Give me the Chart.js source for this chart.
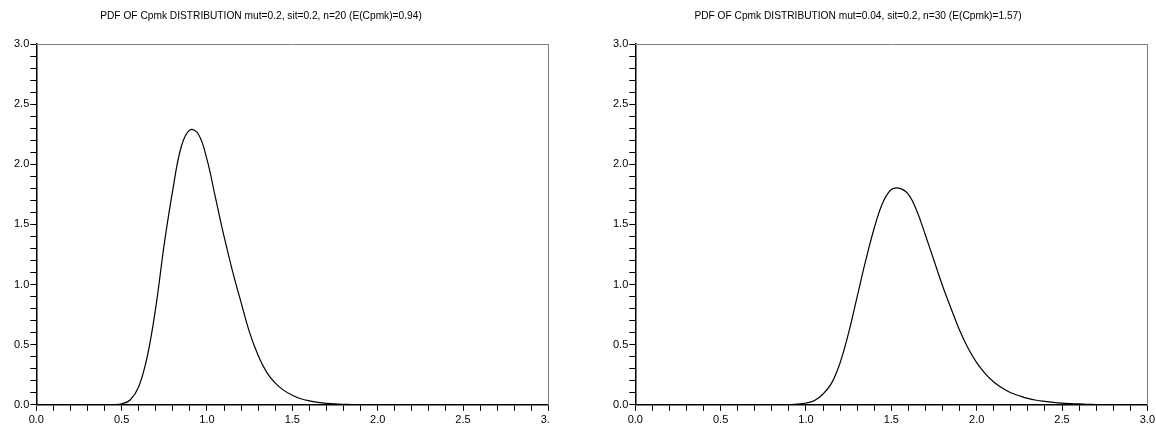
<!DOCTYPE html>
<html>
<head>
<meta charset="utf-8">
<script src="https://cdn.jsdelivr.net/npm/chart.js@4/dist/chart.umd.min.js"></script>
<style>
  html, body { margin: 0; padding: 0; background: #fff; }
  body { width: 1156px; height: 427px; position: relative; overflow: hidden; }
  .panel { position: absolute; top: 0; height: 427px; overflow: hidden; }
  .ttl { position: absolute; top: 10px; font: 10.2px "Liberation Sans", Arial, sans-serif; color: #000;
         white-space: nowrap; transform: translateX(-50%); }
</style>
</head>
<body>
<div class="panel" style="left:0;width:550px"><canvas id="c1" width="559" height="430"></canvas></div>
<div class="panel" style="left:599px;width:557px"><canvas id="c2" width="559" height="430"></canvas></div>
<div class="ttl" style="left:261px">PDF OF Cpmk DISTRIBUTION mut=0.2, sit=0.2, n=20 (E(Cpmk)=0.94)</div>
<div class="ttl" style="left:858px">PDF OF Cpmk DISTRIBUTION mut=0.04, sit=0.2, n=30 (E(Cpmk)=1.57)</div>
<script>
// Cpmk values (x axis)
var cpmkValues = [0.00, 0.05, 0.10, 0.15, 0.20, 0.25, 0.30, 0.35, 0.40, 0.45,
    0.50, 0.55, 0.60, 0.65, 0.70, 0.75, 0.80, 0.85, 0.90, 0.95,
    1.00, 1.05, 1.10, 1.15, 1.20, 1.25, 1.30, 1.35, 1.40, 1.45,
    1.50, 1.55, 1.60, 1.65, 1.70, 1.75, 1.80, 1.85, 1.90, 1.95,
    2.00, 2.05, 2.10, 2.15, 2.20, 2.25, 2.30, 2.35, 2.40, 2.45,
    2.50, 2.55, 2.60, 2.65, 2.70, 2.75, 2.80, 2.85, 2.90, 2.95, 3.00];

// pdf, mut=0.2 sit=0.2 n=20
var pdfLeft = [0, 0, 0, 0, 0, 0, 0, 0, 0, 0,
    0.008, 0.04, 0.15, 0.40, 0.81, 1.34, 1.79, 2.15, 2.285, 2.25,
    2.04, 1.72, 1.40, 1.11, 0.85, 0.60, 0.41, 0.27, 0.18, 0.12,
    0.08, 0.05, 0.032, 0.02, 0.012, 0.007, 0.004, 0.002, 0.001, 0,
    0, 0, 0, 0, 0, 0, 0, 0, 0, 0,
    0, 0, 0, 0, 0, 0, 0, 0, 0, 0, 0];

// pdf, mut=0.04 sit=0.2 n=30
var pdfRight = [0, 0, 0, 0, 0, 0, 0, 0, 0, 0,
    0, 0, 0, 0, 0, 0, 0, 0, 0.001, 0.005,
    0.015, 0.035, 0.09, 0.18, 0.35, 0.60, 0.90, 1.20, 1.47, 1.68,
    1.79, 1.80, 1.75, 1.61, 1.41, 1.20, 0.99, 0.80, 0.62, 0.47,
    0.35, 0.26, 0.19, 0.14, 0.10, 0.075, 0.053, 0.038, 0.028, 0.020,
    0.014, 0.010, 0.007, 0.004, 0.002, 0.001, 0, 0, 0, 0, 0];

var axisMin = 0, axisMax = 3, minorStep = 0.1;

function tickLabel(v) {
    var t = Math.round(v * 10);
    return t % 5 === 0 ? (t / 10).toFixed(1) : '';
}

function makeChart(el, values) {
    var pts = cpmkValues.map(function (x, i) { return {x: x, y: values[i]}; });
    var font = {family: '"Liberation Sans", Arial, sans-serif', size: 11};
    return new Chart(el, {
        type: 'line',
        data: {
            datasets: [{
                data: pts,
                borderColor: '#000',
                borderWidth: 1.2,
                pointRadius: 0,
                tension: 0.4,
                fill: false
            }]
        },
        options: {
            responsive: false,
            animation: false,
            layout: {padding: {top: 44, left: 13, right: 0, bottom: 0}},
            plugins: {legend: {display: false}, tooltip: {enabled: false}},
            scales: {
                x: {
                    type: 'linear', position: 'bottom', min: axisMin, max: axisMax,
                    ticks: {stepSize: minorStep, autoSkip: false, maxRotation: 0, padding: 3,
                        color: '#000', font: font, callback: tickLabel},
                    grid: {drawOnChartArea: false, tickLength: 6, tickColor: '#000'},
                    border: {color: '#000', width: 1.5}
                },
                y: {
                    type: 'linear', position: 'left', min: axisMin, max: axisMax,
                    ticks: {stepSize: minorStep, autoSkip: false, padding: 1,
                        color: '#000', font: font, callback: tickLabel},
                    grid: {drawOnChartArea: false, tickLength: 6, tickColor: '#000'},
                    border: {color: '#000', width: 1.5}
                },
                xTop: {
                    type: 'linear', position: 'top', min: axisMin, max: axisMax,
                    ticks: {display: false},
                    grid: {display: false, drawTicks: false},
                    border: {color: '#808080', width: 1}
                },
                yRight: {
                    type: 'linear', position: 'right', min: axisMin, max: axisMax,
                    ticks: {display: false},
                    grid: {display: false, drawTicks: false},
                    border: {color: '#808080', width: 1}
                }
            }
        }
    });
}

makeChart(document.getElementById('c1'), pdfLeft);
makeChart(document.getElementById('c2'), pdfRight);
</script>
</body>
</html>
